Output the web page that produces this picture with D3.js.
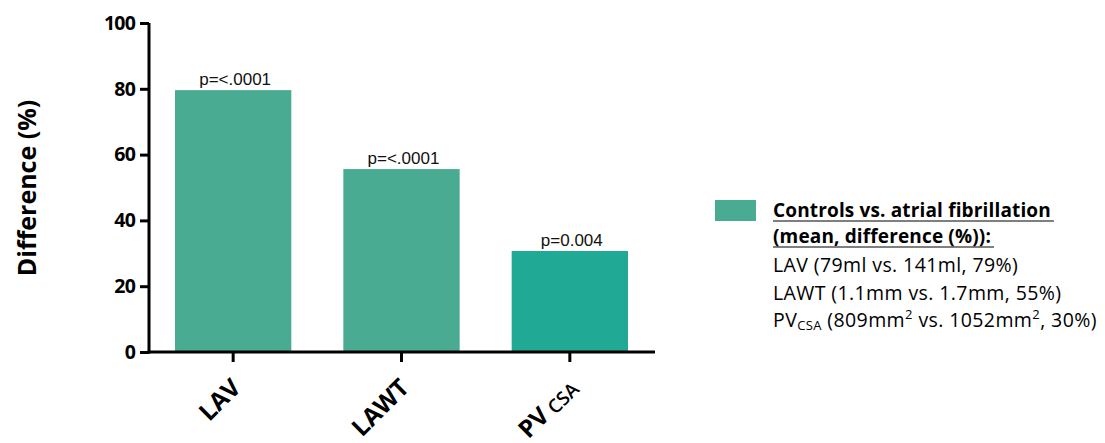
<!DOCTYPE html>
<html>
<head>
<meta charset="utf-8">
<script src="https://cdn.jsdelivr.net/npm/d3@7"></script>
<style>
  body { margin: 0; background: #fff; }
  svg { display: block; }
</style>
</head>
<body>
<svg width="1105" height="443"></svg>
<script>
const categories = ["LAV", "LAWT", "PV"];
const subs = ["", "", "CSA"];
const values = [79.6, 55.6, 30.7];
const pLabels = ["p=<.0001", "p=<.0001", "p=0.004"];
const yTicks = [0, 20, 40, 60, 80, 100];
const legendLines = [
  "LAV (79ml vs. 141ml, 79%)",
  "LAWT (1.1mm vs. 1.7mm, 55%)"
];

const svg = d3.select("svg");
const barColors = ["#4aab93", "#4aab93", "#20a995"];

const padding = { top: 23, left: 149, bottom: 91 };
const height = 443 - padding.top - padding.bottom;
const axisLen = 506;

const yScale = d3.scaleLinear().domain([0, 100]).range([height, 0]);
const xScale = d3.scaleBand()
  .domain(categories)
  .range([26, 479])
  .paddingInner(0.309)
  .paddingOuter(0);

const g = svg.append("g")
  .attr("transform", "translate(" + padding.left + "," + padding.top + ")");

// bars
g.selectAll("rect.bar").data(values).enter()
  .append("rect")
  .attr("x", (d, i) => xScale(categories[i]))
  .attr("y", d => yScale(d))
  .attr("width", xScale.bandwidth())
  .attr("height", d => height - yScale(d))
  .attr("fill", (d, i) => barColors[i]);

// p values
g.selectAll("text.p").data(values).enter()
  .append("text")
  .attr("x", (d, i) => xScale(categories[i]) + xScale.bandwidth() / 2 + 2)
  .attr("y", d => yScale(d) - 5)
  .attr("text-anchor", "middle")
  .attr("font-family", "Liberation Sans, Arial, sans-serif")
  .attr("font-size", 17)
  .attr("fill", "#111")
  .text((d, i) => pLabels[i]);

// y axis
const yAxis = g.append("g")
  .call(d3.axisLeft(yScale).tickValues(yTicks).tickSize(9).tickPadding(5));
yAxis.select(".domain").attr("stroke-width", 3).attr("d", "M0," + (height + 1.5) + "V0");
yAxis.selectAll(".tick line").attr("stroke-width", 3);
yAxis.selectAll(".tick text")
  .attr("font-family", "Open Sans, sans-serif")
  .attr("font-weight", "bold")
  .attr("font-size", 19.5)
  .attr("letter-spacing", -0.8)
  .attr("fill", "#000");

// x axis
const xAxis = g.append("g")
  .attr("transform", "translate(0," + height + ")")
  .call(d3.axisBottom(xScale).tickSize(10).tickFormat(""));
xAxis.select(".domain").attr("stroke-width", 3).attr("d", "M-1.5,0H" + axisLen);
xAxis.selectAll(".tick line").attr("stroke-width", 3);

// rotated category labels
xAxis.selectAll(".tick").each(function (d, i) {
  const t = d3.select(this).append("text")
    .attr("transform", "translate(-3,25) rotate(-45)")
    .attr("text-anchor", "end")
    .attr("font-family", "Open Sans, sans-serif")
    .attr("font-weight", "bold")
    .attr("font-size", 24.5)
    .attr("fill", "#000")
    .attr("dy", "0.7em");
  t.append("tspan").text(categories[i]);
  if (subs[i]) {
    t.append("tspan")
      .attr("font-size", 19)
      .attr("font-weight", 600)
      .attr("dx", 5)
      .attr("dy", 2)
      .text(subs[i]);
  }
});

// y title
svg.append("text")
  .attr("transform", "translate(27," + 188 + ") rotate(-90)")
  .attr("text-anchor", "middle")
  .attr("dy", "0.35em")
  .attr("font-family", "Open Sans, sans-serif")
  .attr("font-weight", "bold")
  .attr("font-size", 25)
  .attr("fill", "#000")
  .text("Difference (%)");

// legend
const lg = svg.append("g").attr("transform", "translate(715,200)");
lg.append("rect").attr("width", 41).attr("height", 21).attr("fill", barColors[0]);
const lx = 58;
const legFont = "Open Sans, sans-serif";
const titleLines = ["Controls vs. atrial fibrillation", "(mean, difference (%)):"];
titleLines.forEach((s, i) => {
  const t = lg.append("text")
    .attr("x", lx).attr("y", 17 + i * 26)
    .attr("font-family", legFont).attr("font-weight", "bold")
    .attr("font-size", 19).attr("letter-spacing", 0.15).attr("fill", "#000")
    .text(s);
  const w = t.node().getComputedTextLength();
  lg.append("line")
    .attr("x1", lx).attr("x2", lx + w + 3)
    .attr("y1", 21 + i * 26).attr("y2", 21 + i * 26)
    .attr("stroke", "#000").attr("stroke-width", 1.2);
});
legendLines.forEach((s, i) => {
  lg.append("text")
    .attr("x", lx).attr("y", 72 + i * 28)
    .attr("font-family", legFont)
    .attr("font-size", 19.5).attr("letter-spacing", 0.4).attr("fill", "#000")
    .text(s);
});
const pv = lg.append("text")
  .attr("x", lx).attr("y", 127)
  .attr("font-family", legFont)
  .attr("font-size", 19.5).attr("letter-spacing", 0.4).attr("fill", "#000");
pv.append("tspan").text("PV");
pv.append("tspan").attr("font-size", 13).attr("dy", 3).text("CSA");
pv.append("tspan").attr("dy", -3).text(" (809mm");
pv.append("tspan").attr("font-size", 13).attr("dy", -8).text("2");
pv.append("tspan").attr("dy", 8).text(" vs. 1052mm");
pv.append("tspan").attr("font-size", 13).attr("dy", -8).text("2");
pv.append("tspan").attr("dy", 8).text(", 30%)");
</script>
</body>
</html>
